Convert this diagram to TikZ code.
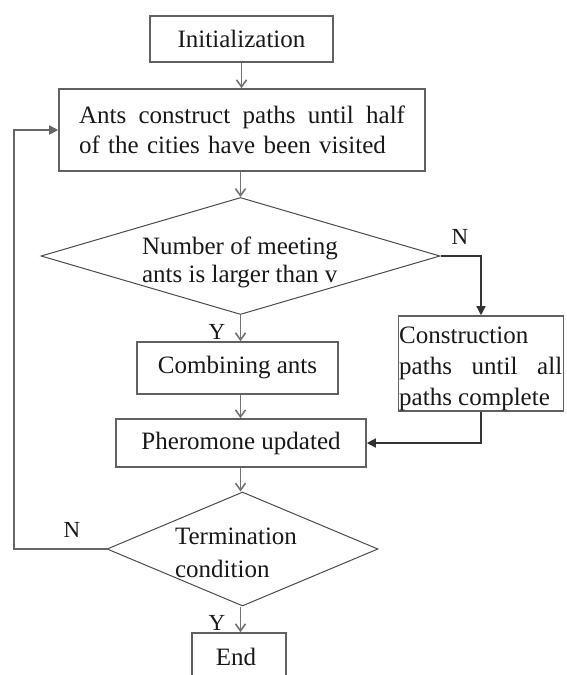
\documentclass[tikz,border=0pt]{standalone}
\usepackage{fontspec}
\setmainfont{Liberation Serif}
\usetikzlibrary{shapes.geometric,arrows.meta}
\begin{document}
\begin{tikzpicture}[x=1pt,y=-1pt,
  every node/.style={font=\fontsize{25}{30}\selectfont, text=black!90},
  box/.style={rectangle, draw=black!62, line width=1.6pt, inner sep=0pt},
  decision/.style={diamond, draw=black!70, line width=1pt, inner sep=0pt},
  flow/.style={draw=black!55, line width=1.6pt, -{Straight Barb[length=7pt,width=10pt]}},
  jump/.style={draw=black!80, line width=1.4pt, -{Triangle[length=9pt,width=9pt]}},
  lbl/.style={font=\fontsize{23}{23}\selectfont}]
  \fill[white] (0,0) rectangle (566,675);
  \useasboundingbox (0,0) rectangle (566,675);

  % process boxes
  \node[box, minimum width=183pt, minimum height=46pt] (init) at (241.5,39) {Initialization};
  \node[box, minimum width=366pt, minimum height=82pt, text width=326pt, align=left] (ants) at (242,130)
    {\makebox[326pt][l]{Ants\hfill construct\hfill paths\hfill until\hfill half}\\of the cities have been visited};
  \node[decision, minimum width=399pt, minimum height=117pt] (dec1) at (240.5,256) {};
  \node[align=left, font=\fontsize{25}{28}\selectfont] (dec1txt) at (240,262)
    {Number of meeting\\ants is larger than v};
  \node[box, minimum width=201pt, minimum height=52pt] (comb) at (237.5,368) {Combining ants};
  \node[box, minimum width=165pt, minimum height=95pt] (cons) at (481,363.5) {};
  \node[anchor=west, align=left, inner sep=0pt, font=\fontsize{25}{31}\selectfont] (constxt) at (399,368.5)
    {Construction\\\makebox[163pt][l]{paths\hfill until\hfill all}\\paths complete};
  \node[box, minimum width=250pt, minimum height=48pt] (pher) at (241,443) {Pheromone updated};
  \node[decision, minimum width=271pt, minimum height=114pt] (dec2) at (242.5,549) {};
  \node[align=left, font=\fontsize{25}{33}\selectfont] (dec2txt) at (236,553)
    {Termination\\condition};
  \node[box, minimum width=94pt, minimum height=58pt] (endb) at (239,662) {};
  \node (endtxt) at (236,657) {End};

  % branch labels
  \node[lbl] (n1) at (460,237) {N};
  \node[lbl] (y1) at (217,332) {Y};
  \node[lbl] (n2) at (72,530) {N};
  \node[lbl] (y2) at (217,623) {Y};

  % main flow
  \draw[flow] (init.south) -- (init.south |- ants.north);
  \draw[flow] (ants.south -| dec1.north) -- (dec1.north);
  \draw[flow] (dec1.south) -- (dec1.south |- comb.north);
  \draw[flow] (comb.south -| dec1.south) -- (dec1.south |- pher.north);
  \draw[flow] (pher.south -| dec1.south) -- (dec1.south |- dec2.north);
  \draw[flow] (dec2.south -| dec1.south) -- (dec1.south |- endb.north);

  % side branch and loop back
  \draw[jump] (dec1.east) -| (cons.north);
  \draw[jump] (cons.south) |- (pher.east);
  \coordinate (loop) at (14,549);
  \draw[jump, draw=black!60, line width=1.8pt] (dec2.west) -- (loop) |- (ants.west);
\end{tikzpicture}
\end{document}
